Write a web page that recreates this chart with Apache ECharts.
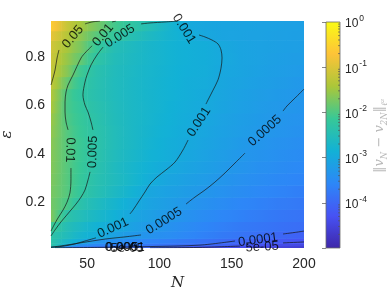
<!DOCTYPE html>
<html><head><meta charset="utf-8">
<script src="https://cdn.jsdelivr.net/npm/echarts@6/dist/echarts.min.js"></script>
<style>html,body{margin:0;padding:0;background:#fff}#c{width:390px;height:293px}</style>
</head><body><div id="c"></div>
<script>
// ---- data ----
const nEdges = [25, 32, 40, 50, 62.5, 75, 87.5, 100, 112.5, 125, 137.5, 150, 162.5, 175, 187.5, 200];
const epsEdges = [0.01, 0.02, 0.03, 0.05, 0.08, 0.12, 0.17, 0.22, 0.27, 0.32, 0.37, 0.42, 0.47, 0.52, 0.57, 0.62, 0.67, 0.72, 0.77, 0.82, 0.87, 0.91, 0.95];
// log10 ||v_N - v_2N||, rows bottom (small eps) to top, columns by N
const logErr = [
 [-3.0, -3.6, -3.75, -3.85, -3.92, -3.97, -4.02, -4.1, -4.2, -4.28, -4.34, -4.4, -4.46, -4.52, -4.58],
 [-2.5, -2.9, -3.4, -3.55, -3.65, -3.73, -3.8, -3.86, -3.92, -3.97, -4.05, -4.15, -4.27, -4.35, -4.42],
 [-2.45, -2.7, -2.92, -3.32, -3.42, -3.52, -3.6, -3.68, -3.76, -3.84, -3.93, -4.02, -4.1, -4.17, -4.24],
 [-2.38, -2.55, -2.75, -2.93, -3.12, -3.26, -3.36, -3.46, -3.56, -3.65, -3.74, -3.82, -3.9, -3.99, -4.05],
 [-2.22, -2.48, -2.65, -2.83, -2.99, -3.13, -3.26, -3.38, -3.49, -3.58, -3.67, -3.74, -3.8, -3.85, -3.9],
 [-1.9, -2.32, -2.5, -2.68, -2.86, -3.05, -3.17, -3.28, -3.39, -3.48, -3.57, -3.64, -3.71, -3.77, -3.82],
 [-1.85, -2.03, -2.35, -2.56, -2.76, -2.95, -3.09, -3.19, -3.3, -3.4, -3.49, -3.57, -3.64, -3.7, -3.75],
 [-1.8, -1.95, -2.2, -2.43, -2.63, -2.82, -3.04, -3.13, -3.21, -3.3, -3.39, -3.47, -3.54, -3.6, -3.66],
 [-1.78, -1.95, -2.16, -2.4, -2.57, -2.74, -2.93, -3.06, -3.14, -3.22, -3.32, -3.4, -3.47, -3.53, -3.58],
 [-1.76, -1.95, -2.14, -2.37, -2.58, -2.74, -2.88, -2.99, -3.08, -3.16, -3.25, -3.34, -3.41, -3.47, -3.52],
 [-1.75, -1.95, -2.13, -2.34, -2.55, -2.7, -2.83, -2.93, -3.02, -3.11, -3.2, -3.29, -3.36, -3.42, -3.47],
 [-1.73, -1.95, -2.12, -2.32, -2.53, -2.67, -2.8, -2.9, -2.99, -3.08, -3.16, -3.24, -3.32, -3.38, -3.43],
 [-1.7, -1.96, -2.14, -2.33, -2.53, -2.66, -2.78, -2.88, -2.96, -3.05, -3.13, -3.2, -3.27, -3.33, -3.38],
 [-1.68, -2.0, -2.17, -2.35, -2.54, -2.66, -2.77, -2.86, -2.94, -3.02, -3.11, -3.18, -3.24, -3.3, -3.35],
 [-1.63, -2.03, -2.2, -2.38, -2.55, -2.66, -2.76, -2.85, -2.93, -2.98, -3.08, -3.15, -3.22, -3.27, -3.32],
 [-1.58, -2.02, -2.25, -2.41, -2.56, -2.67, -2.76, -2.84, -2.91, -2.97, -3.06, -3.13, -3.19, -3.24, -3.29],
 [-1.45, -1.85, -2.2, -2.4, -2.56, -2.66, -2.75, -2.83, -2.9, -2.95, -3.04, -3.1, -3.16, -3.21, -3.26],
 [-1.35, -1.65, -2.08, -2.38, -2.55, -2.65, -2.74, -2.82, -2.89, -2.93, -3.02, -3.08, -3.13, -3.18, -3.22],
 [-1.28, -1.55, -1.85, -2.28, -2.52, -2.63, -2.73, -2.81, -2.88, -2.92, -3.0, -3.07, -3.12, -3.16, -3.19],
 [-1.22, -1.45, -1.72, -2.15, -2.48, -2.61, -2.72, -2.81, -2.88, -2.92, -3.01, -3.07, -3.11, -3.14, -3.17],
 [-1.05, -1.33, -1.6, -1.93, -2.22, -2.45, -2.63, -2.78, -2.9, -3.02, -3.07, -3.1, -3.12, -3.14, -3.16],
 [-0.8, -1.2, -1.45, -1.75, -2.06, -2.27, -2.5, -2.75, -2.97, -3.04, -3.07, -3.09, -3.11, -3.13, -3.15]
];
const xTicks = [50, 100, 150, 200];
const yTicks = [0.2, 0.4, 0.6, 0.8];
const cbarMin = 1e-5, cbarMax = 1;
const minorMantissa = [2, 3, 4, 5, 6, 7, 8, 9];

// contour lines (N, eps) per level, split where labels sit
const c_0_05 = [
 [[25,0.685],[26.4,0.714],[27.8,0.747],[29.2,0.797],[30.5,0.83]],
 [[48.5,0.938],[53.4,0.946],[58.9,0.95]]
];
const c_0_01 = [
 [[53.4,0.847],[49.2,0.822],[45.8,0.797],[40.2,0.726],[36.8,0.685],[35.4,0.656],[34.7,0.615],[34.7,0.573],[35.4,0.532],[36.8,0.499]],
 [[38.8,0.341],[38.8,0.292],[38.1,0.238],[36.1,0.2],[33.3,0.167],[29.8,0.134],[27.1,0.105],[25,0.08]],
 [[67.2,0.946],[70,0.95]]
];
const c_0_005 = [
 [[112.8,0.95],[103.9,0.946],[93.5,0.942],[87.3,0.938]],
 [[61,0.842],[56.8,0.809],[52.7,0.768],[49.9,0.726],[48.5,0.697],[47.1,0.644],[48.5,0.602],[50.6,0.573],[52.7,0.532],[54,0.499]],
 [[52,0.325],[50.6,0.292],[48.5,0.25],[45.8,0.221],[42.3,0.192],[38.8,0.167],[35.4,0.143],[31.9,0.118],[27.8,0.085],[25,0.06]]
];
const c_0_001 = [
 [[127.4,0.892],[131.5,0.884],[136.4,0.871],[140.5,0.855],[142.6,0.83],[143.3,0.797],[142.6,0.755],[140.5,0.706],[137.1,0.664],[133.6,0.623],[132.2,0.606]],
 [[119.8,0.457],[116.3,0.416],[110.8,0.366],[104.5,0.333],[98.3,0.304],[93.5,0.275],[90,0.242],[85.9,0.205],[81.7,0.167],[79.6,0.151]],
 [[56.1,0.052],[48.5,0.039],[41.6,0.027],[34,0.018],[27.8,0.014],[25,0.012]]
];
const c_0_0005 = [
 [[200,0.668],[193.8,0.631],[188.2,0.598],[185.5,0.577]],
 [[159.2,0.403],[152.3,0.362],[145.4,0.321],[138.4,0.283],[131.5,0.25],[124.6,0.221],[118.4,0.192]],
 [[87.3,0.064],[76.2,0.056],[62.4,0.047],[45.1,0.031],[31.2,0.018],[25,0.014]]
];
const c_0_0001 = [
 [[200,0.08],[193.1,0.074],[185.5,0.068]],
 [[152.3,0.039],[128.1,0.022],[93.5,0.016],[58.9,0.0125],[27.8,0.011]]
];
const c_5e_05 = [
 [[200,0.035],[185.5,0.031]],
 [[155.7,0.018],[128.1,0.0125],[93.5,0.0102]]
];
const contourSets = [c_0_05, c_0_01, c_0_005, c_0_001, c_0_0005, c_0_0001, c_5e_05];

const labelText  = ['0.05', '0.01', '0.005', '0.001', '0.01', '0.005', '0.001', '0.0005', '0.001', '0.0005', '0.0001', '5e-05', '0.005', '0.0001', '5e-05'];
const labelN     = [40.2, 61, 72.7, 117, 38.1, 54, 127.4, 173, 67.9, 103.2, 168.2, 171, 74.1, 76, 77.6];
const labelEps   = [0.884, 0.892, 0.888, 0.917, 0.416, 0.408, 0.532, 0.495, 0.093, 0.122, 0.043, 0.014, 0.012, 0.013, 0.01];
const labelAngle = [50, 50, 32, -58, -92, 88, 57, 42, 25, 32, 8, 3, 0, 0, 0];

// ---- chart ----
const parula = ['#3e26a8','#4752f4','#2d87f7','#12b1d6','#37c897','#abc739','#fec338','#f9fb15'];
const FONT = 'Liberation Sans';
const colorOf = v => echarts.color.lerp(Math.max(0, Math.min(1, (v + 5) / 5)), parula);

const cells = [];
for (let i = 0; i < logErr.length; i++)
  for (let j = 0; j < logErr[i].length; j++)
    cells.push([nEdges[j], nEdges[j + 1], epsEdges[i], epsEdges[i + 1], logErr[i][j], i, j]);

const minorTicks = [];
for (let e = -5; e < 0; e++) minorMantissa.forEach(m => minorTicks.push([0, m * Math.pow(10, e)]));

const series = [{
  type: 'custom', xAxisIndex: 0, yAxisIndex: 0, clip: true, z: 1, silent: true,
  encode: { x: [0, 1], y: [2, 3] },
  data: cells,
  renderItem(params, api) {
    const a = api.coord([api.value(0), api.value(3)]);
    const b = api.coord([api.value(1), api.value(2)]);
    const i = api.value(5), j = api.value(6), row = logErr[i], v = row[j], n = row.length;
    const vl = j > 0 ? (row[j - 1] + v) / 2 : 1.5 * v - 0.5 * row[1];
    const vr = j < n - 1 ? (row[j + 1] + v) / 2 : 1.5 * v - 0.5 * row[n - 2];
    return { type: 'rect', shape: { x: a[0], y: a[1], width: b[0] - a[0] + 0.6, height: b[1] - a[1] + 0.6 },
             style: { fill: { type: 'linear', x: 0, y: 0, x2: 1, y2: 0, colorStops: [
               { offset: 0, color: colorOf(vl) }, { offset: 0.5, color: colorOf(v) }, { offset: 1, color: colorOf(vr) }] } } };
  }
}];
contourSets.forEach(set => set.forEach(seg => series.push({
  type: 'line', xAxisIndex: 0, yAxisIndex: 0, data: seg, showSymbol: false, symbol: 'none',
  smooth: 0.3, z: 3, silent: true, lineStyle: { color: '#151515', width: 0.7 }
})));
series.push({
  type: 'scatter', xAxisIndex: 0, yAxisIndex: 0, symbolSize: 0, z: 4, silent: true,
  data: labelText.map((t, k) => ({ value: [labelN[k], labelEps[k]],
    label: { show: true, position: 'inside', formatter: t, rotate: labelAngle[k],
             fontFamily: FONT, fontSize: 13, color: '#000' } }))
});
series.push({
  type: 'custom', xAxisIndex: 1, yAxisIndex: 1, z: 5, silent: true, data: minorTicks,
  renderItem(params, api) {
    const p = api.coord([1, api.value(1)]);
    return { type: 'line', shape: { x1: p[0] - 2, y1: p[1], x2: p[0], y2: p[1] },
             style: { stroke: '#555', lineWidth: 0.7 } };
  }
});

const chart = echarts.init(document.getElementById('c'), null, { renderer: 'canvas' });
chart.setOption({
  animation: false,
  backgroundColor: '#fff',
  grid: [
    { left: 51, top: 21, width: 253, height: 227, containLabel: false, outerBoundsMode: 'none' },
    { left: 326, top: 22, width: 14, height: 226, show: true, borderColor: '#6a6a6a', borderWidth: 0.8,
      outerBoundsMode: 'none',
      backgroundColor: { type: 'linear', x: 0, y: 1, x2: 0, y2: 0,
        colorStops: parula.map((c, k) => ({ offset: k / (parula.length - 1), color: c })) } }
  ],
  xAxis: [
    { type: 'value', gridIndex: 0, min: 25, max: 200, splitNumber: 4,
      axisLine: { show: false }, axisTick: { show: false }, splitLine: { show: false },
      axisLabel: { margin: 9, fontFamily: FONT, fontSize: 14, color: '#262626',
        formatter: v => xTicks.some(t => Math.abs(t - v) < 1e-6) ? String(v) : '' },
      name: 'N', nameLocation: 'middle', nameGap: 28,
      nameTextStyle: { fontFamily: 'DejaVu Serif', fontStyle: 'italic', fontSize: 15, color: '#262626' } },
    { type: 'value', gridIndex: 1, min: 0, max: 1, show: false }
  ],
  yAxis: [
    { type: 'value', gridIndex: 0, min: 0.01, max: 0.95, splitNumber: 5,
      axisLine: { show: false }, axisTick: { show: false }, splitLine: { show: false },
      axisLabel: { margin: 6, fontFamily: FONT, fontSize: 14, color: '#262626',
        formatter: v => yTicks.some(t => Math.abs(t - v) < 1e-6) ? v.toFixed(1) : '' },
      name: 'ε', nameLocation: 'middle', nameGap: 36, nameRotate: 90,
      nameTextStyle: { fontFamily: 'DejaVu Serif', fontStyle: 'italic', fontSize: 15, color: '#262626' } },
    { type: 'log', logBase: 10, gridIndex: 1, min: cbarMin, max: cbarMax, position: 'right', z: 10,
      axisLine: { show: false }, splitLine: { show: false },
      axisTick: { show: true, inside: true, length: 4, lineStyle: { color: '#555', width: 0.7 } },
      axisLabel: { margin: 5, color: '#262626',
        formatter: v => { const e = Math.round(Math.log10(v)); return (e < -4) ? '' : '{b|10}{s|' + e + '}'; },
        rich: { b: { fontFamily: FONT, fontSize: 12, color: '#262626', verticalAlign: 'bottom', lineHeight: 16 },
                s: { fontFamily: FONT, fontSize: 8.5, color: '#262626', verticalAlign: 'top', lineHeight: 16, padding: [0, 0, 0, 1] } } } }
  ],
  graphic: [{
    type: 'text', x: 380, y: 136, rotation: Math.PI / 2, silent: true,
    style: { text: '{n|‖}{i|v}{s|N}{n| − }{i|v}{s|2N}{n|‖}{s|ℓ²}', align: 'center', verticalAlign: 'middle',
      rich: { n: { fontFamily: 'DejaVu Serif', fontSize: 13, fill: '#b8b8b8' },
              i: { fontFamily: 'DejaVu Serif', fontStyle: 'italic', fontSize: 13, fill: '#b8b8b8' },
              s: { fontFamily: 'DejaVu Serif', fontStyle: 'italic', fontSize: 8.5, fill: '#b8b8b8', verticalAlign: 'bottom', lineHeight: 18 } } }
  }],
  series
});
</script></body></html>
